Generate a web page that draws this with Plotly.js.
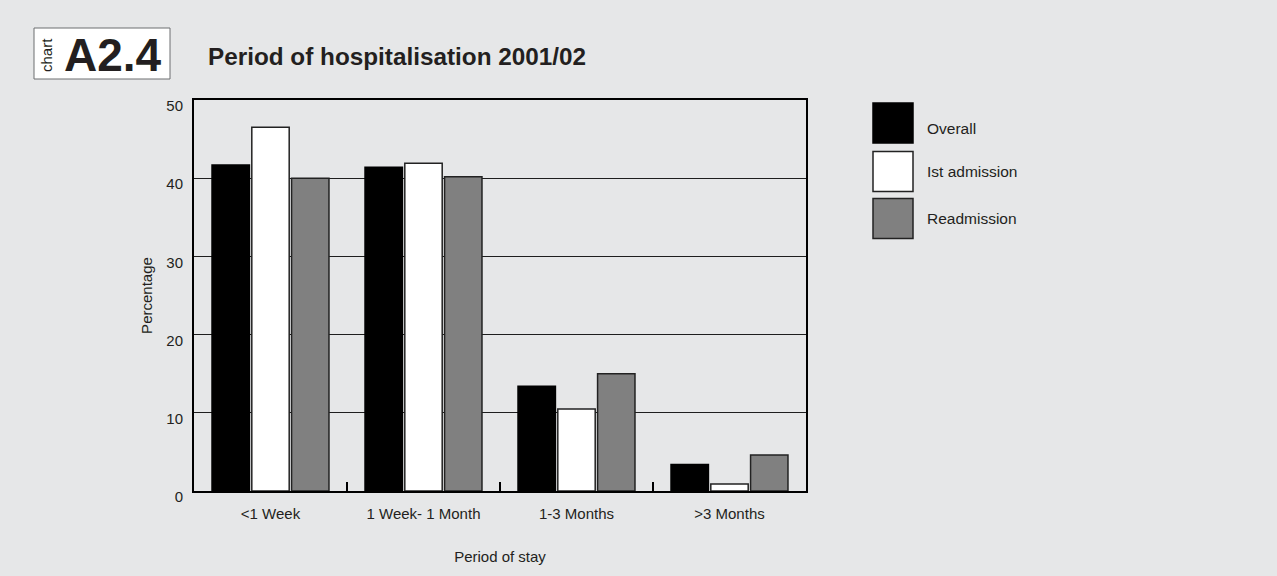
<!DOCTYPE html>
<html>
<head>
<meta charset="utf-8">
<script src="https://cdn.plot.ly/plotly-3.0.1.min.js"></script>
<style>
html,body{margin:0;padding:0;background:#e6e7e8;}
#chart{width:1277px;height:576px;}
</style>
</head>
<body>
<div id="chart"></div>
<script>
// ---- data ----
const categories = ["<1 Week", "1 Week- 1 Month", "1-3 Months", ">3 Months"];
const seriesNames = ["Overall", "Ist admission", "Readmission"];
const overall = [41.7, 41.4, 13.4, 3.4];
const firstAdmission = [46.5, 41.9, 10.5, 0.9];
const readmission = [40.0, 40.2, 15.0, 4.6];
const yTicks = [0, 10, 20, 30, 40, 50];

const chartLabel = "A2.4";
const chartWord = "chart";
const titleText = "Period of hospitalisation 2001/02";
const xTitle = "Period of stay";
const yTitle = "Percentage";

// ---- styling ----
const W = 1277, H = 576;
const L = 194, R = 806, T = 100, B = 491;
const FONT = "Liberation Sans, Arial, Helvetica, sans-serif";
const TXT = "#231f20";
const BG = "#e6e7e8";
const fills = ["#000000", "#ffffff", "#808080"];
const outlines = ["#000000", "#222222", "#222222"];
const seriesValues = [overall, firstAdmission, readmission];

const px = x => (x - L) / (R - L);
const py = y => (B - y) / (B - T);

const traces = seriesNames.map((n, i) => ({
  type: "bar",
  name: n,
  x: categories,
  y: seriesValues[i],
  marker: { color: fills[i], line: { color: outlines[i], width: 1.5 } },
  showlegend: false,
  hoverinfo: "x+y+name"
}));

const shapes = [];
const annotations = [];

// header box
shapes.push({ type: "rect", xref: "paper", yref: "paper", x0: px(34), x1: px(170), y0: py(79), y1: py(28),
  fillcolor: "#ffffff", line: { color: "#6d6e70", width: 1 }, layer: "above" });
annotations.push({ xref: "paper", yref: "paper", x: px(47), y: py(55), text: chartWord, showarrow: false,
  textangle: -90, xanchor: "center", yanchor: "middle", font: { family: FONT, size: 15, color: TXT } });
annotations.push({ xref: "paper", yref: "paper", x: px(112.5), y: py(55), text: "<b>" + chartLabel + "</b>", showarrow: false,
  xanchor: "center", yanchor: "middle", font: { family: FONT, size: 46, color: TXT } });
annotations.push({ xref: "paper", yref: "paper", x: px(206), y: py(56), text: "<b>" + titleText + "</b>", showarrow: false,
  xanchor: "left", yanchor: "middle", font: { family: FONT, size: 24.3, color: TXT } });

// legend
const legTop = [103, 151.5, 198.5];
const legTextY = [128, 171, 218];
seriesNames.forEach((n, i) => {
  shapes.push({ type: "rect", xref: "paper", yref: "paper", x0: px(873), x1: px(913), y0: py(legTop[i] + 40), y1: py(legTop[i]),
    fillcolor: fills[i], line: { color: outlines[i], width: 1.5 }, layer: "above" });
  annotations.push({ xref: "paper", yref: "paper", x: px(925), y: py(legTextY[i]), text: n, showarrow: false,
    xanchor: "left", yanchor: "middle", font: { family: FONT, size: 15.5, color: TXT } });
});

const layout = {
  width: W, height: H,
  paper_bgcolor: BG, plot_bgcolor: BG,
  margin: { l: L, r: W - R, t: T, b: H - B, pad: 0 },
  barmode: "group",
  bargap: 0.22,
  bargroupgap: 0.06,
  showlegend: false,
  font: { family: FONT, size: 15, color: TXT },
  xaxis: {
    type: "category",
    showline: true, linecolor: "#000", linewidth: 2, mirror: true,
    ticks: "inside", tickson: "boundaries", ticklen: 9, tickwidth: 2, tickcolor: "#000",
    showgrid: false, zeroline: false,
    tickfont: { family: FONT, size: 15, color: TXT },
    ticklabelstandoff: 8,
    title: { text: xTitle, font: { family: FONT, size: 15, color: TXT }, standoff: 30 }
  },
  yaxis: {
    range: [0, 50],
    tickvals: yTicks,
    ticktext: yTicks.map(String),
    showline: true, linecolor: "#000", linewidth: 2, mirror: true,
    ticks: "",
    showgrid: true, gridcolor: "#1e1e1e", gridwidth: 1.3,
    zeroline: false,
    tickfont: { family: FONT, size: 15, color: TXT },
    ticklabelstandoff: 6,
    ticklabelshift: 6,
    title: { text: yTitle, font: { family: FONT, size: 15, color: TXT }, standoff: 10 }
  },
  shapes: shapes,
  annotations: annotations
};

Plotly.newPlot("chart", traces, layout, { displayModeBar: false, staticPlot: true });
</script>
</body>
</html>
